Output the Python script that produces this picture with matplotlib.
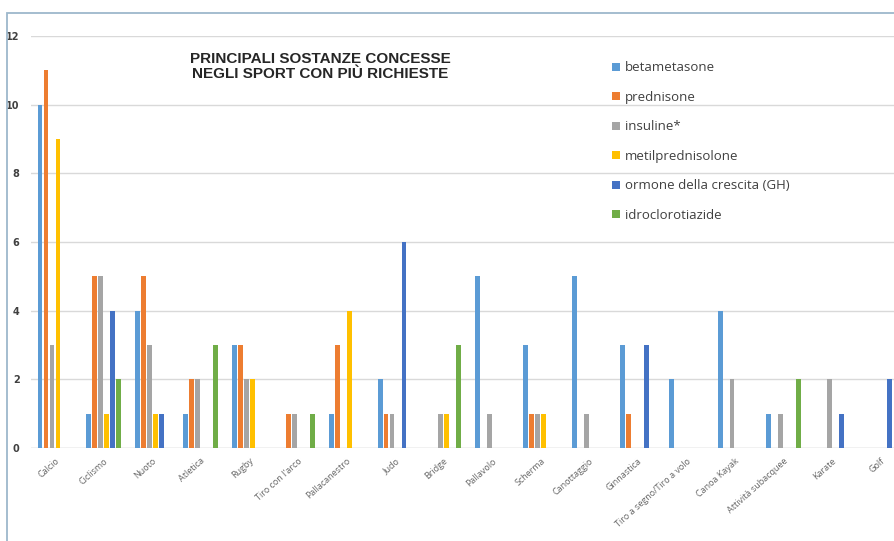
import numpy as np
import matplotlib.pyplot as plt
from matplotlib.patches import Rectangle

sport = ["Calcio", "Ciclismo", "Nuoto", "Atletica", "Rugby", "Tiro con l'arco",
         "Pallacanestro", "Judo", "Bridge", "Pallavolo", "Scherma", "Canottaggio",
         "Ginnastica", "Tiro a segno/Tiro a volo", "Canoa Kayak",
         "Attività subacquee", "Karate", "Golf"]

betametasone = [10, 1, 4, 1, 3, 0, 1, 2, 0, 5, 3, 5, 3, 2, 4, 1, 0, 0]
prednisone = [11, 5, 5, 2, 3, 1, 3, 1, 0, 0, 1, 0, 1, 0, 0, 0, 0, 0]
insuline = [3, 5, 3, 2, 2, 1, 0, 1, 1, 1, 1, 1, 0, 0, 2, 1, 2, 0]
metilprednisolone = [9, 1, 1, 0, 2, 0, 4, 0, 1, 0, 1, 0, 0, 0, 0, 0, 0, 0]
ormone_gh = [0, 4, 1, 0, 0, 0, 0, 6, 0, 0, 0, 0, 3, 0, 0, 0, 1, 2]
idroclorotiazide = [0, 2, 0, 3, 0, 1, 0, 0, 3, 0, 0, 0, 0, 0, 0, 2, 0, 0]

serie = [
    ("betametasone", betametasone, "#5B9BD5"),
    ("prednisone", prednisone, "#ED7D31"),
    ("insuline*", insuline, "#A5A5A5"),
    ("metilprednisolone", metilprednisolone, "#FFC000"),
    ("ormone della crescita (GH)", ormone_gh, "#4472C4"),
    ("idroclorotiazide", idroclorotiazide, "#70AD47"),
]

fig = plt.figure(figsize=(8.94, 5.41), dpi=100)
W, H = 894, 541

# cornice del grafico (tagliata a destra e in basso)
fig.patches.append(Rectangle((7 / W, -0.1), 1.2, 1 - 13 / H + 0.1,
                             transform=fig.transFigure, fill=False,
                             edgecolor="#9DB8CC", linewidth=1.3))

ax = fig.add_axes([30.7 / W, 93 / H, 874.3 / W, 412 / H])
x = np.arange(len(sport))
slot = 0.123
for i, (nome, valori, colore) in enumerate(serie):
    ax.bar(x + (i - 2.5) * slot, valori, width=slot * 0.82, color=colore,
           label=nome, zorder=3)

ax.set_xlim(-0.5, len(sport) - 0.5)
ax.set_ylim(0, 12)
ax.set_yticks(range(0, 13, 2))
ax.yaxis.grid(True, color="#D9D9D9", linewidth=1, zorder=0)
for s in ax.spines.values():
    s.set_visible(False)
ax.axhline(0, color="#D9D9D9", linewidth=1, zorder=1)
ax.tick_params(length=0)
ax.tick_params(axis="y", pad=8, labelsize=7, labelcolor="#404040")
for t in ax.get_yticklabels():
    t.set_fontweight("bold")
ax.set_xticks(x)
ax.set_xticklabels(sport, rotation=42, ha="right", rotation_mode="anchor",
                   fontsize=6.5, color="#666666", family="Open Sans")
ax.tick_params(axis="x", pad=6)

fig.text(320 / W, 1 - 66.5 / H,
         "PRINCIPALI SOSTANZE CONCESSE\nNEGLI SPORT CON PIÙ RICHIESTE",
         ha="center", va="center", fontsize=11, fontweight="bold",
         family="Liberation Sans", color="#262626", linespacing=1.05)

leg = ax.legend(loc="upper left", bbox_to_anchor=(607 / W, 1 - 56 / H),
                bbox_transform=fig.transFigure, frameon=False,
                prop={"family": "Open Sans", "size": 9.5},
                handlelength=0.55, handleheight=0.55, handletextpad=0.4,
                labelspacing=1.25, borderaxespad=0)
for t in leg.get_texts():
    t.set_color("#404040")

fig.savefig("out.png", dpi=100)
